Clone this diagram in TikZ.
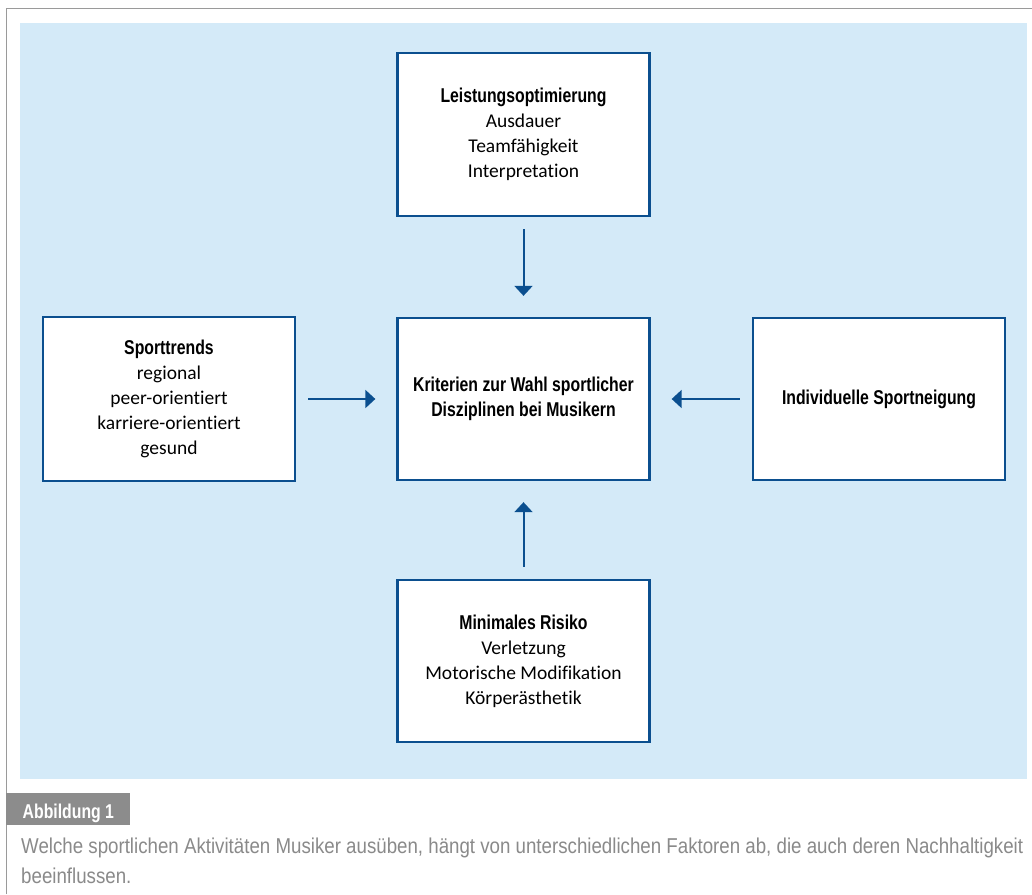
\documentclass[tikz,border=0pt]{standalone}
\usepackage{fontspec}
\setmainfont{Carlito}[Ligatures=NoCommon]
\newfontfamily\condfont[FakeStretch=0.79]{Liberation Sans}
\newfontfamily\capfont[FakeStretch=0.87]{Liberation Sans}
\usetikzlibrary{arrows.meta}
\definecolor{bgblue}{HTML}{D4EAF8}
\definecolor{boxblue}{HTML}{0B4F8F}
\definecolor{framegray}{HTML}{9A9A9A}
\definecolor{labelgray}{HTML}{8C8C8C}
\definecolor{captext}{HTML}{8A8A8A}
\newcommand{\ttl}[1]{{\condfont\bfseries\fontsize{20}{25}\selectfont #1}}
\tikzset{
  box/.style={draw=boxblue, line width=2.3pt, fill=white, minimum width=252pt,
    minimum height=163pt, inner sep=0pt, align=center, text=black,
    font=\fontsize{19.5}{25}\selectfont},
  arr/.style={draw=boxblue, line width=2pt, -{Triangle[length=10pt,width=18pt]},
    shorten <=12pt, shorten >=21pt},
}
\begin{document}
\begin{tikzpicture}[x=1pt,y=-1pt]
\useasboundingbox (0,0) rectangle (1032,894);
\fill[white] (0,0) rectangle (1032,894);
% frame
\draw[framegray, line width=1.5pt] (6.5,894) -- (6.5,8.5) -- (1032,8.5);
% background
\fill[bgblue] (20,23) rectangle (1027,779);
% boxes
\node[box] (top) at (523.5,134.5) {\ttl{Leistungsoptimierung}\\Ausdauer\\Teamfähigkeit\\Interpretation};
\node[box, minimum height=162pt] (center) at (523.5,399) {\ttl{Kriterien zur Wahl sportlicher}\\\ttl{Disziplinen bei Musikern}};
\node[box, minimum height=164pt] (left) at (169,399) {\ttl{Sporttrends}\\regional\\peer-orientiert\\karriere-orientiert\\gesund};
\node[box, minimum height=162pt] (right) at (879,399) {\ttl{Individuelle Sportneigung}};
\node[box, minimum height=162pt] (bottom) at (523.5,661) {\ttl{Minimales Risiko}\\Verletzung\\Motorische Modifikation\\Körperästhetik};
% arrows
\draw[arr] (top.south) -- (center.north);
\draw[arr] (left.east) -- (center.west);
\draw[arr] (right.west) -- (center.east);
\draw[arr] (bottom.north) -- (center.south);
% caption label
\node[fill=labelgray, minimum width=124pt, minimum height=32pt, inner sep=0pt] (lab) at (68,809) {};
\node[anchor=base west, inner sep=0pt, text=white, font=\condfont\bfseries\fontsize{20}{22}\selectfont] (labtext) at (22.5,818) {Abbildung 1};
% caption text
\node[anchor=base west, inner sep=0pt, text=captext, font=\capfont\fontsize{21.5}{30}\selectfont] (cap1) at (21,853) {Welche sportlichen Aktivitäten Musiker ausüben, hängt von unterschiedlichen Faktoren ab, die auch deren Nachhaltigkeit};
\node[anchor=base west, inner sep=0pt, text=captext, font=\capfont\fontsize{21.5}{30}\selectfont] (cap2) at (21,883) {beeinflussen.};
\end{tikzpicture}
\end{document}
